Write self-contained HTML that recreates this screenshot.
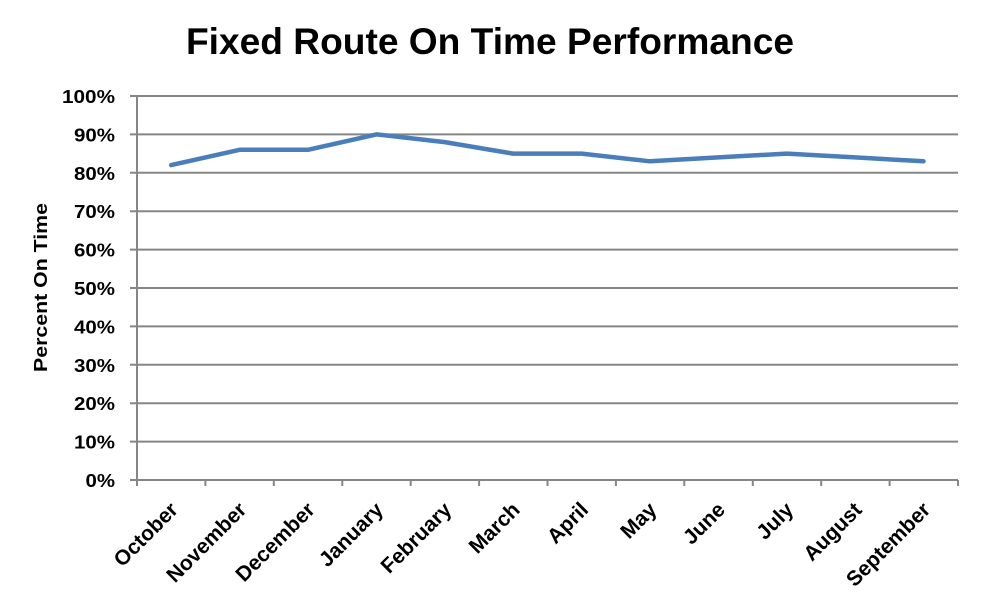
<!DOCTYPE html>
<html>
<head>
<meta charset="utf-8">
<style>
  html, body { margin:0; padding:0; background:#fff; }
  svg { display:block; }
  text { font-family: "Liberation Sans", Arial, sans-serif; font-weight:bold; fill:#000; }
</style>
</head>
<body>
<svg width="981" height="603" viewBox="0 0 981 603" xmlns="http://www.w3.org/2000/svg">
  <rect width="981" height="603" fill="#fff"/>
  <!-- Title -->
  <text x="186" y="54" font-size="37" textLength="608" lengthAdjust="spacingAndGlyphs">Fixed Route On Time Performance</text>

  <!-- Gridlines -->
  <g stroke="#868686" stroke-width="2" fill="none">
    <line x1="130" y1="96" x2="958" y2="96"/>
    <line x1="130" y1="134.4" x2="958" y2="134.4"/>
    <line x1="130" y1="172.8" x2="958" y2="172.8"/>
    <line x1="130" y1="211.2" x2="958" y2="211.2"/>
    <line x1="130" y1="249.6" x2="958" y2="249.6"/>
    <line x1="130" y1="288" x2="958" y2="288"/>
    <line x1="130" y1="326.4" x2="958" y2="326.4"/>
    <line x1="130" y1="364.8" x2="958" y2="364.8"/>
    <line x1="130" y1="403.2" x2="958" y2="403.2"/>
    <line x1="130" y1="441.6" x2="958" y2="441.6"/>
    <line x1="130" y1="480" x2="958" y2="480"/>
    <!-- y axis -->
    <line x1="137" y1="96" x2="137" y2="481"/>
    <!-- x ticks -->
    <line x1="137" y1="480" x2="137" y2="486"/>
    <line x1="205.4" y1="480" x2="205.4" y2="486"/>
    <line x1="273.8" y1="480" x2="273.8" y2="486"/>
    <line x1="342.3" y1="480" x2="342.3" y2="486"/>
    <line x1="410.7" y1="480" x2="410.7" y2="486"/>
    <line x1="479.1" y1="480" x2="479.1" y2="486"/>
    <line x1="547.5" y1="480" x2="547.5" y2="486"/>
    <line x1="615.9" y1="480" x2="615.9" y2="486"/>
    <line x1="684.3" y1="480" x2="684.3" y2="486"/>
    <line x1="752.8" y1="480" x2="752.8" y2="486"/>
    <line x1="821.2" y1="480" x2="821.2" y2="486"/>
    <line x1="889.6" y1="480" x2="889.6" y2="486"/>
    <line x1="958" y1="480" x2="958" y2="486"/>
  </g>

  <!-- Y tick labels -->
  <g font-size="18.5" text-anchor="end">
    <text x="115" y="103" textLength="53" lengthAdjust="spacingAndGlyphs">100%</text>
    <text x="115" y="141.4" textLength="41" lengthAdjust="spacingAndGlyphs">90%</text>
    <text x="115" y="179.8" textLength="41" lengthAdjust="spacingAndGlyphs">80%</text>
    <text x="115" y="218.2" textLength="41" lengthAdjust="spacingAndGlyphs">70%</text>
    <text x="115" y="256.6" textLength="41" lengthAdjust="spacingAndGlyphs">60%</text>
    <text x="115" y="295" textLength="41" lengthAdjust="spacingAndGlyphs">50%</text>
    <text x="115" y="333.4" textLength="41" lengthAdjust="spacingAndGlyphs">40%</text>
    <text x="115" y="371.8" textLength="41" lengthAdjust="spacingAndGlyphs">30%</text>
    <text x="115" y="410.2" textLength="41" lengthAdjust="spacingAndGlyphs">20%</text>
    <text x="115" y="448.6" textLength="41" lengthAdjust="spacingAndGlyphs">10%</text>
    <text x="115" y="487" textLength="29.5" lengthAdjust="spacingAndGlyphs">0%</text>
  </g>

  <!-- Y axis title -->
  <text x="0" y="0" font-size="18.5" text-anchor="middle" textLength="169" lengthAdjust="spacingAndGlyphs" transform="translate(47,287.5) rotate(-90)">Percent On Time</text>

  <!-- X labels -->
  <g font-size="21" text-anchor="end">
    <text transform="translate(179.2,511) rotate(-45)">October</text>
    <text transform="translate(247.6,511) rotate(-45)">November</text>
    <text transform="translate(316,511) rotate(-45)">December</text>
    <text transform="translate(384.4,511) rotate(-45)">January</text>
    <text transform="translate(452.8,511) rotate(-45)">February</text>
    <text transform="translate(521.1,511) rotate(-45)">March</text>
    <text transform="translate(589.5,511) rotate(-45)">April</text>
    <text transform="translate(657.9,511) rotate(-45)">May</text>
    <text transform="translate(726.3,511) rotate(-45)">June</text>
    <text transform="translate(794.7,511) rotate(-45)">July</text>
    <text transform="translate(863.1,511) rotate(-45)">August</text>
    <text transform="translate(931.5,511) rotate(-45)">September</text>
  </g>

  <!-- Series -->
  <polyline fill="none" stroke="#4A7EBB" stroke-width="4.5" stroke-linejoin="round" stroke-linecap="round"
    points="171.2,165.1 239.6,149.8 308,149.8 376.4,134.4 444.8,142.1 513.1,153.6 581.5,153.6 649.9,161.3 718.3,157.4 786.7,153.6 855.1,157.4 923.5,161.3"/>
</svg>
</body>
</html>
